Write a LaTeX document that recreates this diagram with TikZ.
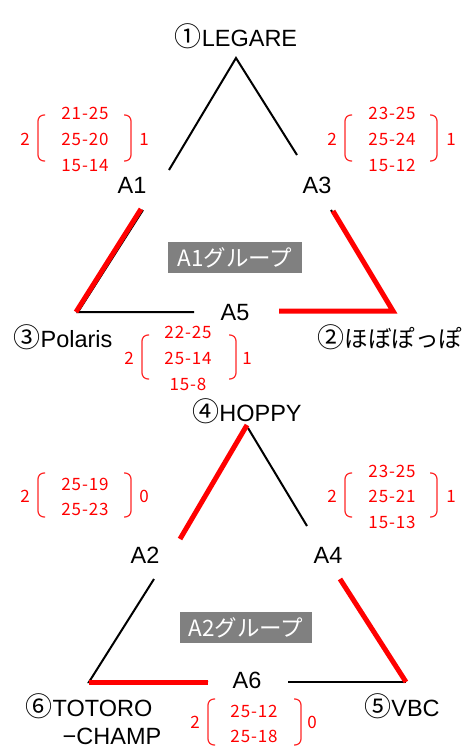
\documentclass[tikz,border=0pt]{standalone}
\usepackage{fontspec}
\setmainfont{Liberation Sans}
\newfontfamily\jp{Noto Sans CJK JP}
\newfontfamily\scfont[LetterSpace=5]{Noto Sans CJK JP}
\newcommand{\cir}[1]{{\jp\fontsize{27}{27}\selectfont #1}}
\begin{document}
\begin{tikzpicture}[x=1pt,y=-1pt,
  lbl/.style={anchor=base,inner sep=0pt,font=\fontsize{23.5}{23.5}\selectfont},
  sc/.style={anchor=base,inner sep=0pt,text=red,font=\scfont\fontsize{17}{17}\selectfont},
  grp/.style={fill=black!50,text=white,inner sep=0pt,minimum height=31pt,font=\jp\fontsize{22.5}{22.5}\selectfont},
  bk/.style={line width=2pt,black},
  rd/.style={line width=5pt,red},
  br/.style={red!85!white,line width=1.2pt,rounded corners=6pt}]
\useasboundingbox (0,0) rectangle (472,750);
% ---------- A1 group ----------
\node[lbl] (t1) at (236,46) {\cir{①}LEGARE};
\node[lbl] (a1) at (132,193) {A1};
\node[lbl] (a3) at (317,193) {A3};
\node[lbl] (a5) at (235,320) {A5};
\node[lbl] (t3) at (63,347) {\cir{③}Polaris};
\node[lbl] (t2) at (390,347) {\cir{②}{\jp ほぼぽっぽ}};
\node[grp,minimum width=134pt] (g1) at (235,257.5) {A1グループ};
\coordinate (p1) at (236,58);
\coordinate (p1l) at (169,170);
\coordinate (p1r) at (297,155);
\coordinate (q1) at (143,210);
\coordinate (q1r) at (141,209);
\coordinate (q3) at (78,312);
\coordinate (q3r) at (76,312);
\coordinate (q5l) at (194,312);
\coordinate (q5r) at (279,311);
\coordinate (q2) at (393,311);
\coordinate (q4) at (331,210);
\coordinate (q4r) at (333,211);
\draw[bk] (p1l) -- (p1) -- (p1r);
\draw[bk] (q1) -- (q3) -- (q5l);
\draw[rd] (q1r) -- (q3r);
\draw[bk] (q4) -- (q2);
\draw[rd] (q4r) -- (q2) -- (q5r);
% scores
\node[sc] (s11) at (85,119) {21-25};
\node[sc] (s12) at (85,145) {25-20};
\node[sc] (s13) at (85,171) {15-14};
\node[sc] (s1a) at (25,145) {2};
\node[sc] (s1b) at (144,145) {1};
\draw[br] (45,115) -- (38,115) -- (38,161) -- (45,161);
\draw[br] (124,115) -- (131,115) -- (131,161) -- (124,161);
\node[sc] (s21) at (392,119) {23-25};
\node[sc] (s22) at (392,145) {25-24};
\node[sc] (s23) at (392,171) {15-12};
\node[sc] (s2a) at (332,145) {2};
\node[sc] (s2b) at (451,145) {1};
\draw[br] (352,115) -- (345,115) -- (345,161) -- (352,161);
\draw[br] (430,115) -- (437,115) -- (437,161) -- (430,161);
\node[sc] (s31) at (188,338) {22-25};
\node[sc] (s32) at (188,364) {25-14};
\node[sc] (s33) at (188,390) {15-8};
\node[sc] (s3a) at (129,364) {2};
\node[sc] (s3b) at (247,364) {1};
\draw[br] (149,335) -- (142,335) -- (142,379) -- (149,379);
\draw[br] (229,335) -- (236,335) -- (236,379) -- (229,379);
% ---------- A2 group ----------
\node[lbl] (t4) at (247,421) {\cir{④}HOPPY};
\node[lbl] (a2) at (145,563) {A2};
\node[lbl] (a4) at (328,563) {A4};
\node[lbl] (a6) at (247,688) {A6};
\node[lbl] (t6) at (89,716) {\cir{⑥}TOTORO};
\node[lbl] (t6b) at (112,744) {−CHAMP};
\node[lbl] (t5) at (402,716) {\cir{⑤}VBC};
\node[grp,minimum width=132pt] (g2) at (246,627.5) {A2グループ};
\coordinate (p4) at (247,425);
\coordinate (p4b) at (248,428);
\coordinate (p2) at (180,539);
\coordinate (p4r) at (307,526);
\coordinate (r2) at (154,579);
\coordinate (r6) at (89,682);
\coordinate (r6l) at (208,682);
\coordinate (r6r) at (288,682);
\coordinate (r5) at (406,682);
\coordinate (r4) at (340,579);
\draw[bk] (p4b) -- (p4r);
\draw[rd] (p4) -- (p2);
\draw[bk] (r2) -- (r6) -- ([yshift=1pt]r6l);
\draw[bk] (r6r) -- (r5);
\draw[rd] (r6) -- (r6l);
\draw[rd] (r4) -- (r5);
\node[sc] (s41) at (85,490) {25-19};
\node[sc] (s42) at (85,515) {25-23};
\node[sc] (s4a) at (25,502) {2};
\node[sc] (s4b) at (144,502) {0};
\draw[br] (45,473) -- (38,473) -- (38,517) -- (45,517);
\draw[br] (124,473) -- (131,473) -- (131,517) -- (124,517);
\node[sc] (s51) at (392,477) {23-25};
\node[sc] (s52) at (392,502) {25-21};
\node[sc] (s53) at (392,528) {15-13};
\node[sc] (s5a) at (332,502) {2};
\node[sc] (s5b) at (451,502) {1};
\draw[br] (352,473) -- (345,473) -- (345,517) -- (352,517);
\draw[br] (430,473) -- (437,473) -- (437,517) -- (430,517);
\node[sc] (s61) at (254,717) {25-12};
\node[sc] (s62) at (254,742) {25-18};
\node[sc] (s6a) at (195,728) {2};
\node[sc] (s6b) at (312,728) {0};
\draw[br] (215,699) -- (208,699) -- (208,745) -- (215,745);
\draw[br] (294,699) -- (301,699) -- (301,745) -- (294,745);
\end{tikzpicture}
\end{document}
